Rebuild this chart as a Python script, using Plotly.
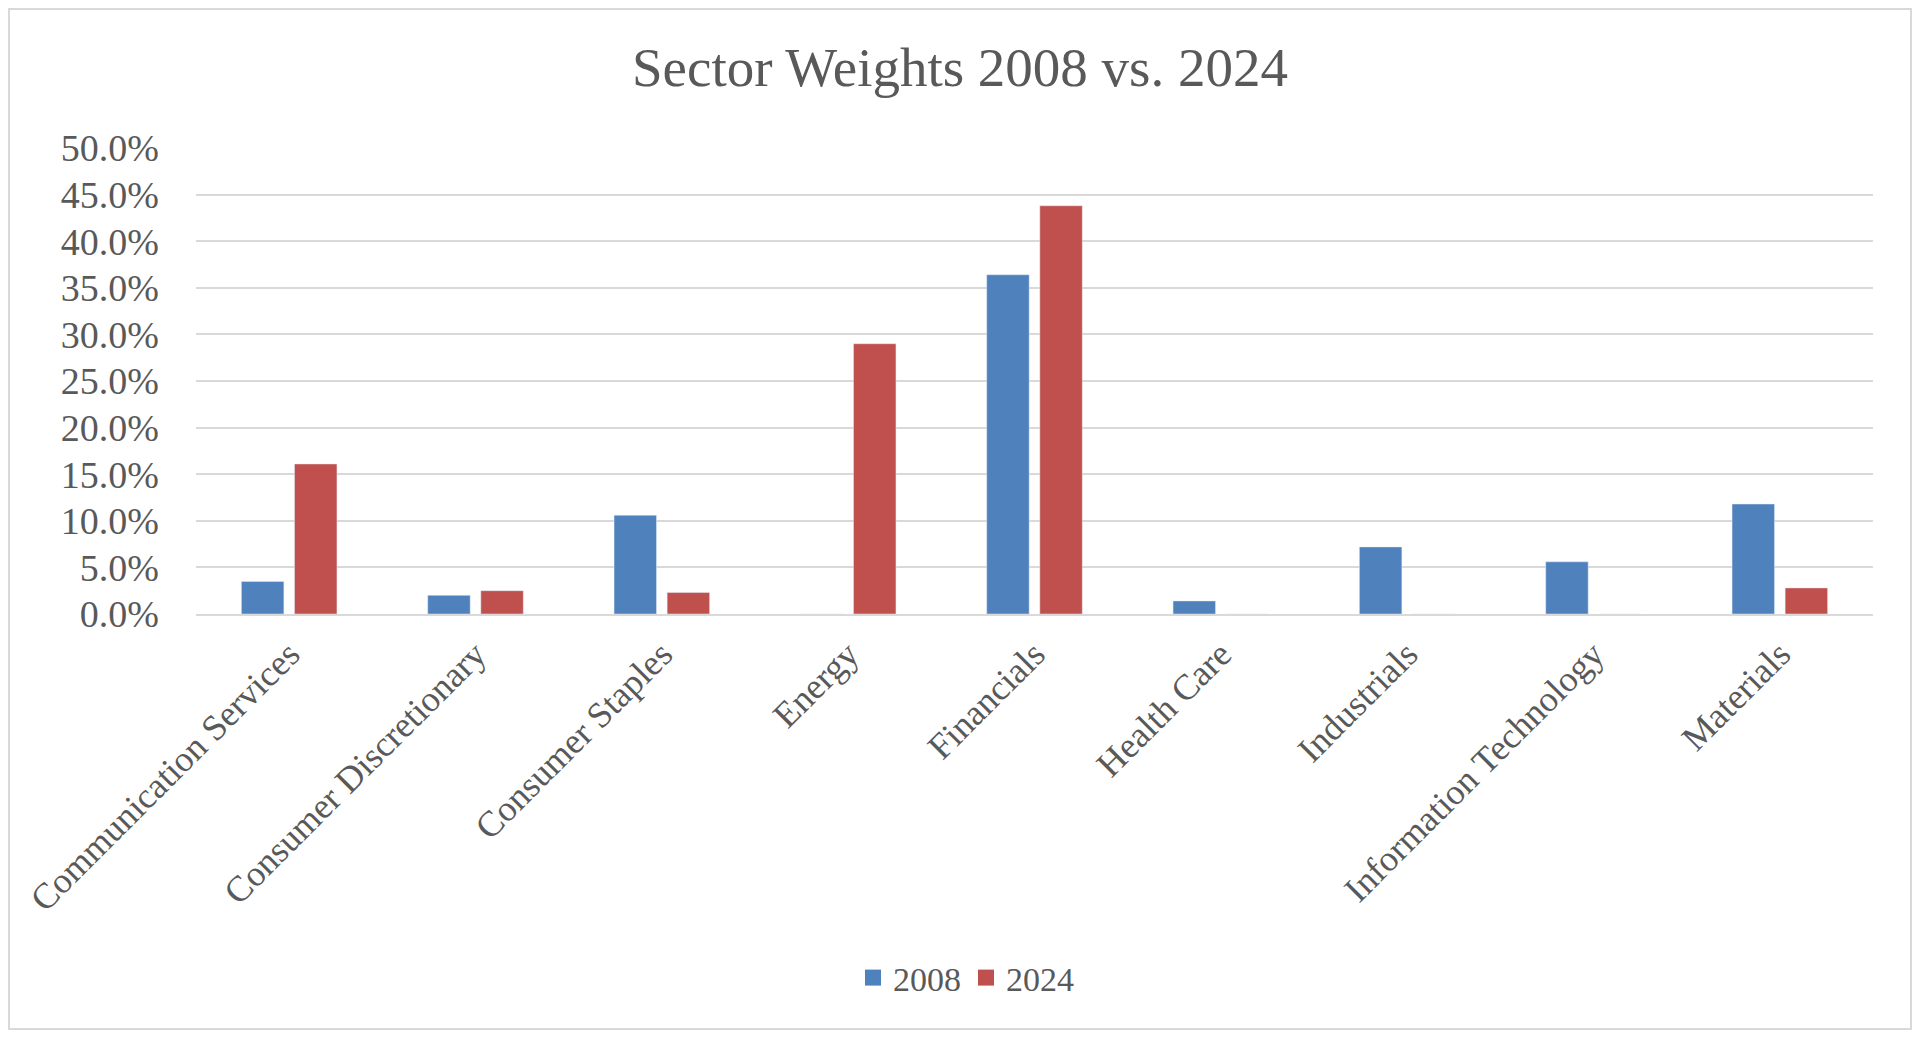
import plotly.graph_objects as go

sectors = ["Communication Services", "Consumer Discretionary", "Consumer Staples",
           "Energy", "Financials", "Health Care", "Industrials",
           "Information Technology", "Materials"]
weights_2008 = [3.5, 2.0, 10.6, 0.0, 36.4, 1.4, 7.2, 5.6, 11.8]
weights_2024 = [16.1, 2.5, 2.3, 29.0, 43.8, 0.0, 0.0, 0.0, 2.8]

serif = "Liberation Serif"
grey = "#595959"
blue, red = "#4f81bd", "#c0504d"

fig = go.Figure()
fig.add_trace(go.Bar(x=sectors, y=weights_2008, name="2008", marker_color=blue,
                     showlegend=False))
fig.add_trace(go.Bar(x=sectors, y=weights_2024, name="2024", marker_color=red,
                     showlegend=False))
# legend entries with bigger square keys
for name, col in [("2008", blue), ("2024", red)]:
    fig.add_trace(go.Scatter(x=[None], y=[None], mode="markers", name=name,
                             marker=dict(symbol="square", size=20, color=col)))

# page is rendered inside an 8px body margin
W, H = 1904, 1022
ml, mr, mt, mb = 188, 39, 140, 416
pw, ph = W - ml - mr, H - mt - mb

fig.update_layout(
    barmode="group",
    bargap=0.43,
    bargroupgap=0.2,
    plot_bgcolor="white",
    paper_bgcolor="white",
    font=dict(family=serif, color=grey, size=34),
    margin=dict(l=ml, r=mr, t=mt, b=mb),
    title=dict(text="Sector Weights 2008 vs. 2024", x=0.5, xanchor="center",
               y=1 - 59 / H, yanchor="middle",
               font=dict(family=serif, size=55, color=grey)),
    legend=dict(orientation="h", x=(958 - ml) / pw, xanchor="center",
                y=(mt + ph - 970) / ph, yanchor="middle",
                itemsizing="trace", itemwidth=30,
                font=dict(size=34, color=grey)),
    xaxis=dict(tickangle=-45, showline=True, linecolor="#d9d9d9", linewidth=1.5,
               ticks="", showgrid=False, ticklabelstandoff=3,
               tickfont=dict(size=36, color=grey)),
    yaxis=dict(range=[0, 50], dtick=5, tickformat=".1f", ticksuffix="%",
               showgrid=True, gridcolor="#d9d9d9", gridwidth=1.5,
               zeroline=False, ticks="", ticklabelstandoff=36,
               tickfont=dict(size=38, color=grey)),
    shapes=[dict(type="rect", xref="paper", yref="paper",
                 x0=(1 - ml) / pw, x1=(W - 1 - ml) / pw,
                 y0=-(mb - 1) / ph, y1=1 + (mt - 1) / ph,
                 line=dict(color="#d9d9d9", width=2), layer="below")],
)

fig.write_html("out.html")
